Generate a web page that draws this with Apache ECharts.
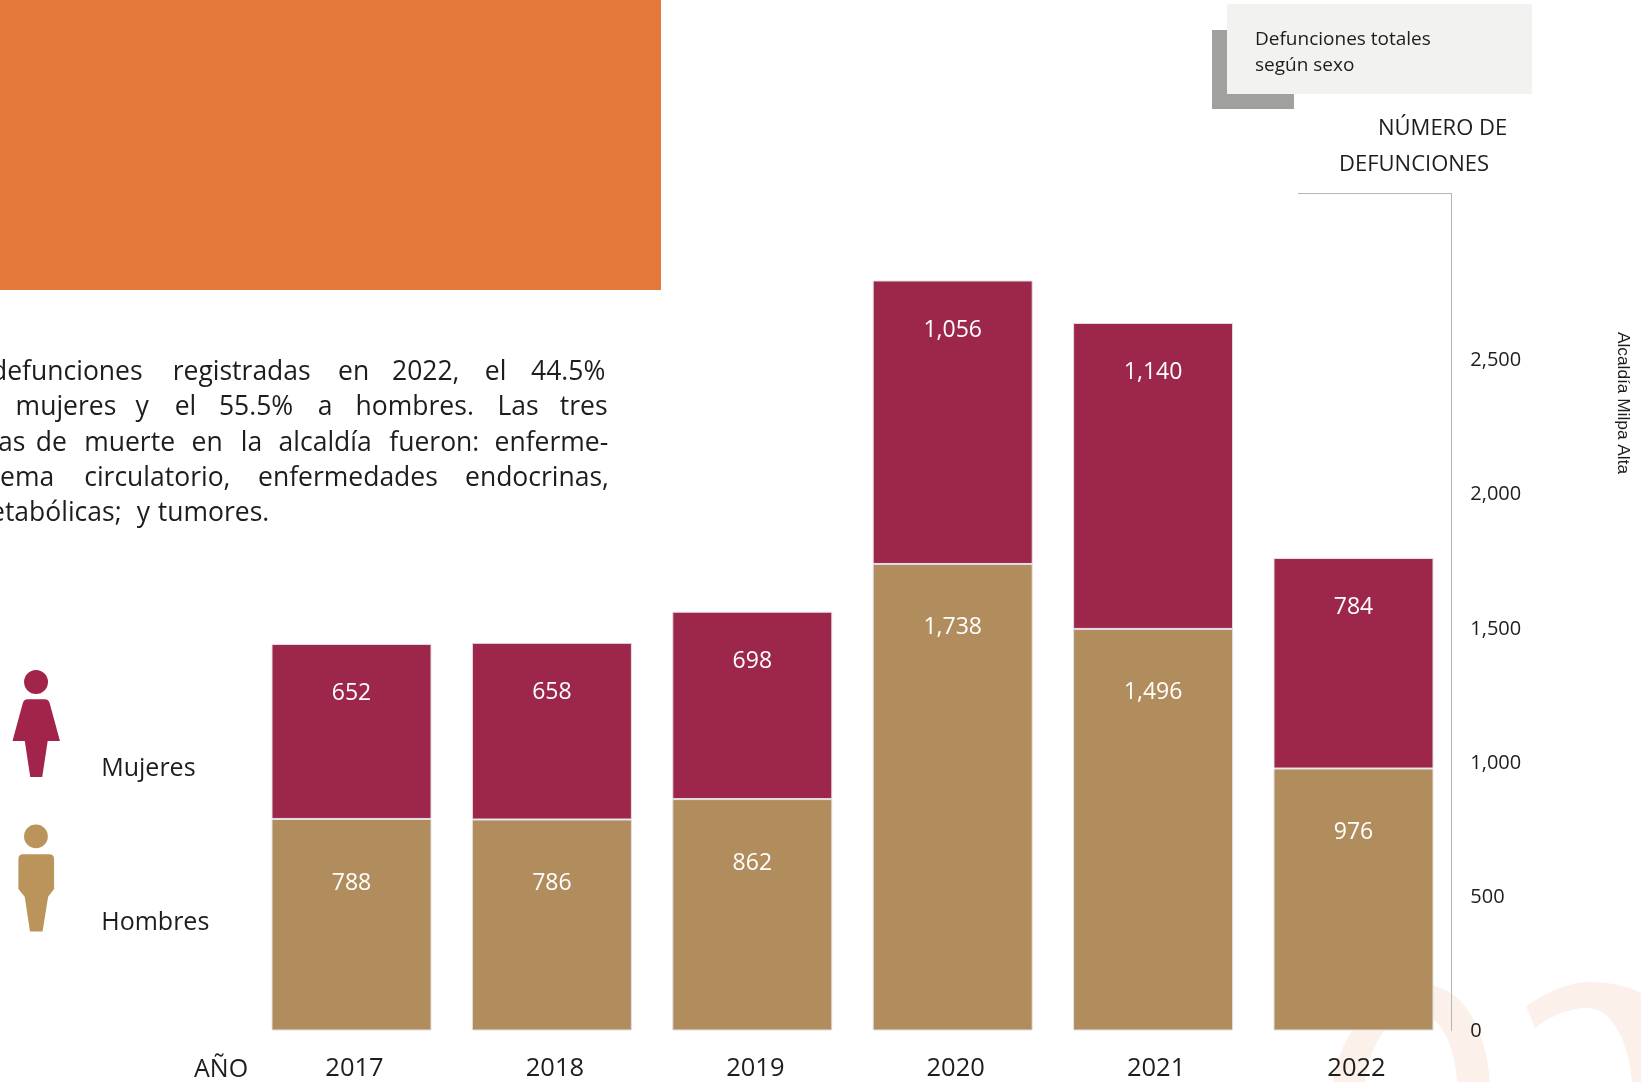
<!DOCTYPE html>
<html><head><meta charset="utf-8">
<style>html,body{margin:0;padding:0;background:#fff}#c{width:1641px;height:1082px}</style>
<script src="https://cdn.jsdelivr.net/npm/echarts@6/dist/echarts.min.js"></script>
</head><body><div id="c"></div>
<script>
const years = ['2017','2018','2019','2020','2021','2022'];
const hombres = [788,786,862,1738,1496,976];
const mujeres = [652,658,698,1056,1140,784];
const paragraphWords = [
 ['defunciones','registradas','en','2022,','el','44.5%'],
 ['mujeres','y','el','55.5%','a','hombres.','Las','tres'],
 ['as','de','muerte','en','la','alcaldía','fueron:','enferme-'],
 ['ema','circulatorio,','enfermedades','endocrinas,'],
 ['etabólicas;','y','tumores.']
];
const wordX = [
 [-9,172.7,338,392,484.8,531],
 [15.6,135.5,174.7,218.9,317.8,355.6,497.5,559.8],
 [-2,35.8,84.2,191.5,240.7,278.6,389.3,494.5],
 [0,84.2,258,465],
 [-10,136.8,157.8]
];
const lineY = [372.5,407.5,443,478,513];
const FONT = '"Open Sans", sans-serif';
const INK = '#1d1d1b';
const fmt = v => v.toLocaleString('en-US');
const womanIcon = 'path://M24.3 681.7A12 12 0 1 1 48.3 681.7A12 12 0 1 1 24.3 681.7ZM28 699L45 699Q49 699 50 703L60.3 741L48 741L42.5 777L30.5 777L25 741L12.7 741L23 703Q24 699 28 699Z';
const manIcon = 'path://M25 835A12 12 0 1 1 49 835A12 12 0 1 1 25 835ZM24 853L50.5 853Q55.3 853 55.3 858L55.3 888L49.3 896L43.7 931L31 931L25.7 896L19.3 888L19.3 858Q19.3 853 24 853Z';

echarts.graphic.registerShape('wmA', echarts.graphic.extendPath('M1333 1082C1340 1030 1385 975 1434 986C1475 995 1488 1050 1490 1082L1457 1082C1455 1050 1445 1020 1420 1012C1395 1008 1370 1040 1365 1082Z', {}));
echarts.graphic.registerShape('wmB', echarts.graphic.extendPath('M1526 1006C1550 990 1570 982 1590 982C1610 982 1628 986 1641 993L1641 1082L1632 1082C1630 1050 1615 1008 1587 1008C1570 1008 1550 1016 1535 1028Z', {}));

const graphics = [
 {type:'wmA',z:0,silent:true,style:{fill:'#fcf0eb'}},
 {type:'wmB',z:0,silent:true,style:{fill:'#fcf0eb'}},
 {type:'rect',z:0,silent:true,shape:{x:0,y:0,width:661,height:290},style:{fill:'#e3783a'}},
 {type:'rect',z:0,silent:true,shape:{x:1212,y:30,width:82,height:79},style:{fill:'#a0a09f'}},
 {type:'rect',z:1,silent:true,shape:{x:1227,y:4,width:305,height:90},style:{fill:'#f2f2f0'}},
 {type:'text',z:2,silent:true,x:1255,y:40,style:{text:'Defunciones totales',font:'19px '+FONT,fill:INK,verticalAlign:'middle'}},
 {type:'text',z:2,silent:true,x:1255,y:66,style:{text:'según sexo',font:'19px '+FONT,fill:INK,verticalAlign:'middle'}},
 {type:'text',z:2,silent:true,x:1378,y:129,style:{text:'NÚMERO DE',font:'22px '+FONT,fill:INK,verticalAlign:'middle'}},
 {type:'text',z:2,silent:true,x:1339,y:165,style:{text:'DEFUNCIONES',font:'22px '+FONT,fill:INK,verticalAlign:'middle'}},
 {type:'line',z:1,silent:true,shape:{x1:1298,y1:193.5,x2:1452,y2:193.5},style:{stroke:'#b5b5b5',lineWidth:1}},
 {type:'text',z:2,silent:true,x:194,y:1070,style:{text:'AÑO',font:'25px '+FONT,fill:INK,verticalAlign:'middle'}},
 {type:'text',z:2,silent:true,x:1622.7,y:403,rotation:-Math.PI/2,style:{text:'Alcaldía Milpa Alta',font:'17.3px "Liberation Sans", sans-serif',fill:INK,align:'center',verticalAlign:'middle'}}
];
paragraphWords.forEach((ws,i)=>ws.forEach((w,j)=>{
 graphics.push({type:'text',z:2,silent:true,x:wordX[i][j],y:lineY[i],style:{text:w,font:'26.5px '+FONT,fill:INK,verticalAlign:'middle'}});
}));

const chart = echarts.init(document.getElementById('c'),null,{renderer:'canvas'});
const barBorder = {borderColor:'#e4dfe6',borderWidth:1};
chart.setOption({
 animation:false,
 backgroundColor:'#fff',
 grid:{left:251.3,width:1202.4,top:193.5,height:837,containLabel:false,outerBoundsMode:'none'},
 legend:{
  orient:'vertical',left:12.5,top:663.5,padding:0,itemWidth:48,itemHeight:107,itemGap:37,selectedMode:false,
  itemStyle:{borderWidth:0},
  formatter:name=>'{s|}\n{t|'+name+'}',
  textStyle:{rich:{
    s:{height:90,width:1,lineHeight:90,fontSize:1},
    t:{fontFamily:FONT,fontSize:25,color:INK,lineHeight:30,padding:[0,0,0,36]}
  }},
  data:[
   {name:'Mujeres',icon:womanIcon,itemStyle:{color:'#a3244a'}},
   {name:'Hombres',icon:manIcon,itemStyle:{color:'#ba945a'}}
  ]
 },
 xAxis:{type:'category',data:years,
  axisLine:{show:false},axisTick:{show:false},
  axisLabel:{color:INK,fontFamily:FONT,fontSize:25.5,margin:25.5,padding:[0,0,0,6]}},
 yAxis:{type:'value',position:'right',offset:-2.4,min:0,max:3118,interval:500,
  splitLine:{show:false},axisTick:{show:false},
  axisLine:{show:true,lineStyle:{color:'#b5b5b5',width:1}},
  axisLabel:{margin:19,showMaxLabel:false,
   formatter:v=>v>2500?'':'{s|}\n{v|'+fmt(v)+'}',
   rich:{s:{height:2,width:1,lineHeight:2,fontSize:1},v:{color:INK,fontFamily:FONT,fontSize:20,lineHeight:26}}}},
 series:[
  {name:'Hombres',type:'bar',stack:'t',data:hombres,barWidth:160,
   itemStyle:Object.assign({color:'#b18d5e'},barBorder),
   label:{show:true,position:'insideTop',distance:52.5,color:'#fff',fontFamily:FONT,fontSize:23,formatter:p=>fmt(p.value)}},
  {name:'Mujeres',type:'bar',stack:'t',data:mujeres,barWidth:160,
   itemStyle:Object.assign({color:'#9d264b'},barBorder),
   label:{show:true,position:'insideTop',distance:38,color:'#fff',fontFamily:FONT,fontSize:23,formatter:p=>fmt(p.value)}}
 ],
 graphic:{elements:graphics}
});
</script></body></html>
